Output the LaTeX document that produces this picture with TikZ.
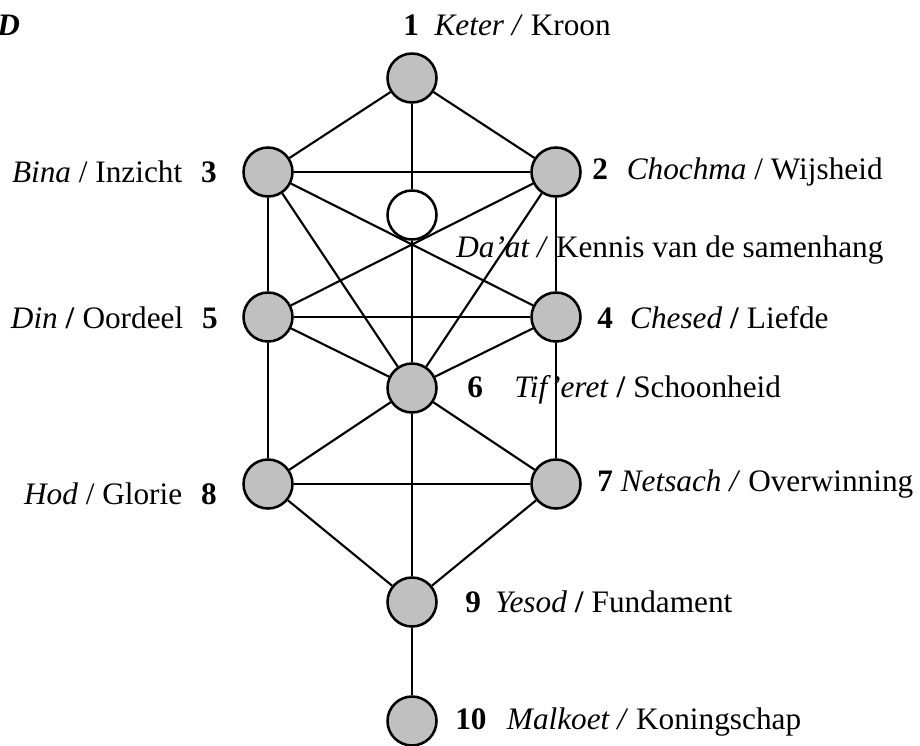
\documentclass[tikz,border=0pt]{standalone}
\usepackage{fontspec}
\setmainfont{Liberation Serif}
\usetikzlibrary{positioning}

\definecolor{sefgray}{RGB}{192,192,192}
\tikzset{
  sefira/.style={circle, draw, line width=1.45pt, fill=sefgray, minimum size=0.98cm, inner sep=0pt},
  leeg/.style={sefira, fill=white},
  pad/.style={line width=1.2pt},
  naam/.style={font=\fontsize{17.8}{20}\selectfont, inner sep=0pt}
}

\begin{document}
\begin{tikzpicture}[x=0.02cm, y=-0.02cm]
\useasboundingbox (0,0) rectangle (920,745);

\node[sefira] (keter) at (412, 78) {};
\node[sefira] (bina) at (268, 172) {};
\node[sefira] (chochma) at (556, 172) {};
\node[leeg] (daat) at (412, 215) {};
\node[sefira] (din) at (268, 317) {};
\node[sefira] (chesed) at (556, 317) {};
\node[sefira] (tiferet) at (412, 388) {};
\node[sefira] (hod) at (268, 484) {};
\node[sefira] (netsach) at (556, 484) {};
\node[sefira] (yesod) at (412, 602) {};
\node[sefira] (malkoet) at (412, 721) {};

\node[naam, anchor=west] (letter) at (-3, 25) {\textbf{\textit{D}}};
\node[naam, anchor=west] (tketer) at (403, 25) {\textbf{1}\enspace\textit{Keter /} Kroon};
\node[naam, anchor=east] (tbina) at (217, 172) {\textit{Bina} / Inzicht\hspace{0.6em}\textbf{3}};
\node[naam, anchor=west] (tchochma) at (592, 172) {\textbf{2}\hspace{0.6em}\textit{Chochma} / Wijsheid};
\node[naam, anchor=west] (tdaat) at (456, 250) {\textit{Da’at /} Kennis van de samenhang};
\node[naam, anchor=east] (tdin) at (218, 318) {\textit{Din} \textbf{/} Oordeel\hspace{0.6em}\textbf{5}};
\node[naam, anchor=west] (tchesed) at (597, 318) {\textbf{4}\hspace{0.55em}\textit{Chesed} \textbf{/} Liefde};
\node[naam, anchor=west] (ttiferet) at (467, 390) {\textbf{6}\quad\textit{Tif’eret} \textbf{/} Schoonheid};
\node[naam, anchor=east] (thod) at (217, 494) {\textit{Hod} / Glorie\hspace{0.6em}\textbf{8}};
\node[naam, anchor=west] (tnetsach) at (597, 484) {\textbf{7} \textit{Netsach /} Overwinning};
\node[naam, anchor=west] (tyesod) at (465, 602) {\textbf{9}\hspace{0.45em}\textit{Yesod} \textbf{/} Fundament};
\node[naam, anchor=west] (tmalkoet) at (455, 722) {\textbf{10}\hspace{0.65em}\textit{Malkoet /} Koningschap};

% paden
\draw[pad] (keter) -- (bina);
\draw[pad] (keter) -- (chochma);
\draw[pad] (keter) -- (daat);
\draw[pad] (daat) -- (tiferet);
\draw[pad] (bina) -- (chochma);
\draw[pad] (bina) -- (din);
\draw[pad] (bina) -- (chesed);
\draw[pad] (bina) -- (tiferet);
\draw[pad] (chochma) -- (chesed);
\draw[pad] (chochma) -- (din);
\draw[pad] (chochma) -- (tiferet);
\draw[pad] (din) -- (chesed);
\draw[pad] (din) -- (tiferet);
\draw[pad] (chesed) -- (tiferet);
\draw[pad] (din) -- (hod);
\draw[pad] (chesed) -- (netsach);
\draw[pad] (tiferet) -- (hod);
\draw[pad] (tiferet) -- (netsach);
\draw[pad] (tiferet) -- (yesod);
\draw[pad] (hod) -- (netsach);
\draw[pad] (hod) -- (yesod);
\draw[pad] (netsach) -- (yesod);
\draw[pad] (yesod) -- (malkoet);
\end{tikzpicture}
\end{document}
